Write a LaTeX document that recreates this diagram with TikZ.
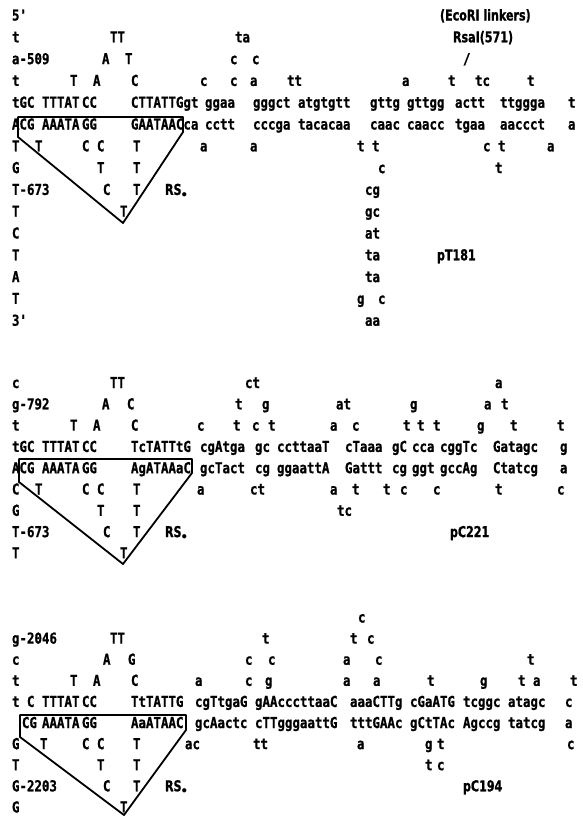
\documentclass[tikz,border=0pt]{standalone}
\usepackage{fontspec}
\newfontfamily\seqf{DejaVu Sans Mono}[FakeStretch=0.83,FakeBold=1]
\newfontfamily\labf{DejaVu Sans}[FakeStretch=0.74,FakeBold=1]
\newcounter{wc}
\newcommand\Wd[3]{\stepcounter{wc}\node[sq] (w\arabic{wc}) at (#1,#2) {#3};}
\newcommand\Lbl[3]{\stepcounter{wc}\node[lb] (w\arabic{wc}) at (#1,#2) {#3};}
\tikzset{
  sq/.style={anchor=base west, inner sep=0pt, outer sep=0pt, font=\seqf\bfseries\fontsize{15}{16}\selectfont},
  lb/.style={anchor=base west, inner sep=0pt, outer sep=0pt, font=\labf\bfseries\fontsize{15}{16}\selectfont},
  loopline/.style={line width=1.8pt, line join=round, line cap=round}
}
\begin{document}
\begin{tikzpicture}[x=1pt,y=-1pt]
\useasboundingbox (0,0) rectangle (582,817);
% ---------------- block 1 : pT181 ----------------
\begin{scope}[shift={(0,20.5)}, y=-21.8pt]
\Wd{12}{0}{5'} \Lbl{440}{0}{(EcoRI linkers)}
\Wd{12}{1}{t} \Wd{110}{1}{TT} \Wd{235}{1}{ta} \Lbl{453}{1}{RsaI(571)}
\Wd{12}{2}{a-509} \Wd{102}{2}{A} \Wd{125}{2}{T} \Wd{230}{2}{c} \Wd{252}{2}{c} \Wd{463}{2}{/}
\Wd{12}{3}{t} \Wd{70}{3}{T} \Wd{93}{3}{A} \Wd{131}{3}{C} \Wd{200}{3}{c} \Wd{230}{3}{c} \Wd{250}{3}{a} \Wd{287}{3}{tt} \Wd{402}{3}{a} \Wd{448}{3}{t} \Wd{475}{3}{tc} \Wd{527}{3}{t}
\Wd{12}{4}{tGC} \Wd{42}{4}{TTTAT} \Wd{82}{4}{CC} \Wd{131}{4}{CTTATTGgt} \Wd{205}{4}{ggaa} \Wd{253}{4}{gggct} \Wd{298}{4}{atgtgtt} \Wd{370}{4}{gttg} \Wd{407}{4}{gttgg} \Wd{455}{4}{actt} \Wd{500}{4}{ttggga} \Wd{568}{4}{t}
\Wd{12}{5}{ACG} \Wd{42}{5}{AAATA} \Wd{82}{5}{GG} \Wd{131}{5}{GAATAACca} \Wd{205}{5}{cctt} \Wd{253}{5}{cccga} \Wd{298}{5}{tacacaa} \Wd{370}{5}{caac} \Wd{407}{5}{caacc} \Wd{455}{5}{tgaa} \Wd{500}{5}{aaccct} \Wd{568}{5}{a}
\Wd{12}{6}{T} \Wd{35}{6}{T} \Wd{82}{6}{C} \Wd{97}{6}{C} \Wd{133}{6}{T} \Wd{200}{6}{a} \Wd{250}{6}{a} \Wd{357}{6}{t} \Wd{372}{6}{t} \Wd{483}{6}{c} \Wd{498}{6}{t} \Wd{547}{6}{a}
\Wd{12}{7}{G} \Wd{97}{7}{T} \Wd{133}{7}{T} \Wd{378}{7}{c} \Wd{495}{7}{t}
\Wd{12}{8}{T-673} \Wd{103}{8}{C} \Wd{133}{8}{T} \Lbl{165}{8}{RS$_{\bullet}$} \Wd{365}{8}{cg}
\Wd{12}{9}{T} \Wd{120}{9}{T} \Wd{365}{9}{gc}
\Wd{12}{10}{C} \Wd{365}{10}{at}
\Wd{12}{11}{T} \Wd{365}{11}{ta} \Lbl{437}{11}{pT181}
\Wd{12}{12}{A} \Wd{365}{12}{ta}
\Wd{12}{13}{T} \Wd{357}{13}{g} \Wd{378}{13}{c}
\Wd{12}{14}{3'} \Wd{365}{14}{aa}
\end{scope}
\draw[loopline] (18,117) -- (183,117) -- (183,132) -- (123,223) -- (18,137) -- cycle;
% ---------------- block 2 : pC221 ----------------
\begin{scope}[shift={(0,388)}, y=-21.3pt]
\Wd{12}{0}{c} \Wd{110}{0}{TT} \Wd{245}{0}{ct} \Wd{495}{0}{a}
\Wd{12}{1}{g-792} \Wd{102}{1}{A} \Wd{127}{1}{C} \Wd{235}{1}{t} \Wd{262}{1}{g} \Wd{336}{1}{at} \Wd{410}{1}{g} \Wd{484}{1}{a} \Wd{501}{1}{t}
\Wd{12}{2}{t} \Wd{70}{2}{T} \Wd{93}{2}{A} \Wd{131}{2}{C} \Wd{197}{2}{c} \Wd{233}{2}{t} \Wd{252}{2}{c} \Wd{268}{2}{t} \Wd{330}{2}{a} \Wd{352}{2}{c} \Wd{403}{2}{t} \Wd{417}{2}{t} \Wd{433}{2}{t} \Wd{477}{2}{g} \Wd{510}{2}{t} \Wd{557}{2}{t}
\Wd{12}{3}{tGC} \Wd{42}{3}{TTTAT} \Wd{82}{3}{CC} \Wd{131}{3}{TcTATTtG} \Wd{200}{3}{cgAtga} \Wd{255}{3}{gc} \Wd{277}{3}{ccttaaT} \Wd{345}{3}{cTaaa} \Wd{392}{3}{gC} \Wd{412}{3}{cca} \Wd{440}{3}{cggTc} \Wd{493}{3}{Gatagc} \Wd{560}{3}{g}
\Wd{12}{4}{ACG} \Wd{42}{4}{AAATA} \Wd{82}{4}{GG} \Wd{131}{4}{AgATAAaC} \Wd{200}{4}{gcTact} \Wd{255}{4}{cg} \Wd{277}{4}{ggaattA} \Wd{345}{4}{Gattt} \Wd{392}{4}{cg} \Wd{412}{4}{ggt} \Wd{440}{4}{gccAg} \Wd{493}{4}{Ctatcg} \Wd{560}{4}{a}
\Wd{12}{5}{C} \Wd{35}{5}{T} \Wd{82}{5}{C} \Wd{97}{5}{C} \Wd{133}{5}{T} \Wd{197}{5}{a} \Wd{250}{5}{ct} \Wd{330}{5}{a} \Wd{352}{5}{t} \Wd{383}{5}{t} \Wd{400}{5}{c} \Wd{433}{5}{c} \Wd{495}{5}{t} \Wd{557}{5}{c}
\Wd{12}{6}{G} \Wd{97}{6}{T} \Wd{133}{6}{T} \Wd{337}{6}{tc}
\Wd{12}{7}{T-673} \Wd{103}{7}{C} \Wd{133}{7}{T} \Lbl{165}{7}{RS$_{\bullet}$} \Lbl{450}{7}{pC221}
\Wd{12}{8}{T} \Wd{120}{8}{T}
\end{scope}
\draw[loopline] (19,459) -- (192,459) -- (192,473) -- (123,564) -- (19,482) -- cycle;
% ---------------- block 3 : pC194 ----------------
\begin{scope}[shift={(0,622.5)}, y=-21.1pt]
\Wd{358}{0}{c}
\Wd{12}{1}{g-2046} \Wd{110}{1}{TT} \Wd{262}{1}{t} \Wd{350}{1}{t} \Wd{367}{1}{c}
\Wd{12}{2}{c} \Wd{103}{2}{A} \Wd{128}{2}{G} \Wd{245}{2}{c} \Wd{268}{2}{c} \Wd{343}{2}{a} \Wd{375}{2}{c} \Wd{527}{2}{t}
\Wd{12}{3}{t} \Wd{70}{3}{T} \Wd{93}{3}{A} \Wd{131}{3}{C} \Wd{195}{3}{a} \Wd{245}{3}{c} \Wd{265}{3}{g} \Wd{343}{3}{a} \Wd{373}{3}{a} \Wd{427}{3}{t} \Wd{480}{3}{g} \Wd{518}{3}{t} \Wd{533}{3}{a} \Wd{570}{3}{t}
\Wd{12}{4}{t} \Wd{27}{4}{C} \Wd{42}{4}{TTTAT} \Wd{82}{4}{CC} \Wd{131}{4}{TtTATTG} \Wd{195}{4}{cgTtgaG} \Wd{255}{4}{gAAcccttaaC} \Wd{350}{4}{aaaCTTg} \Wd{410}{4}{cGaATG} \Wd{463}{4}{tcggc} \Wd{508}{4}{atagc} \Wd{565}{4}{c}
\Wd{22}{5}{CG} \Wd{42}{5}{AAATA} \Wd{82}{5}{GG} \Wd{131}{5}{AaATAAC} \Wd{195}{5}{gcAactc} \Wd{255}{5}{cTTgggaattG} \Wd{350}{5}{tttGAAc} \Wd{410}{5}{gCtTAc} \Wd{463}{5}{Agccg} \Wd{508}{5}{tatcg} \Wd{565}{5}{a}
\Wd{12}{6}{G} \Wd{40}{6}{T} \Wd{82}{6}{C} \Wd{97}{6}{C} \Wd{133}{6}{T} \Wd{185}{6}{ac} \Wd{253}{6}{tt} \Wd{357}{6}{a} \Wd{425}{6}{g} \Wd{437}{6}{t} \Wd{567}{6}{c}
\Wd{12}{7}{T} \Wd{97}{7}{T} \Wd{133}{7}{T} \Wd{425}{7}{t} \Wd{437}{7}{c}
\Wd{12}{8}{G-2203} \Wd{103}{8}{C} \Wd{133}{8}{T} \Lbl{165}{8}{RS$_{\bullet}$} \Lbl{463}{8}{pC194}
\Wd{12}{9}{G} \Wd{120}{9}{T}
\end{scope}
\draw[loopline] (20,715) -- (186,715) -- (186,730) -- (124,815) -- (20,737) -- cycle;
\end{tikzpicture}
\end{document}
